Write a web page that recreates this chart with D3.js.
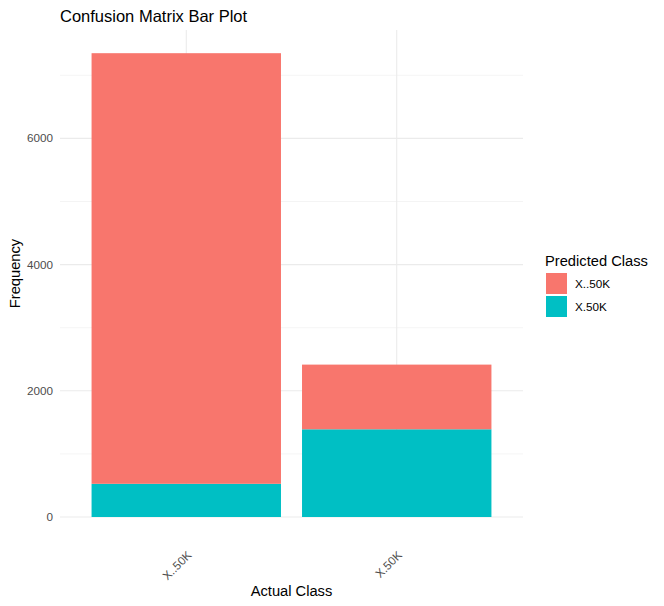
<!DOCTYPE html>
<html>
<head>
<meta charset="utf-8">
<script src="https://cdn.jsdelivr.net/npm/d3@7"></script>
<style>
  body { margin: 0; background: #fff; }
  text { font-family: "Liberation Sans", Arial, sans-serif; }
</style>
</head>
<body>
<svg width="664" height="606"></svg>
<script>
// categories and counts
const actualClasses = ["X..50K", "X.50K"];
const predictedClasses = ["X..50K", "X.50K"];
const predLow = [6824, 1025];   // predicted X..50K
const predHigh = [526, 1390];   // predicted X.50K
const yTicks = [0, 2000, 4000, 6000];
const yMinor = [1000, 3000, 5000, 7000];
const fillColors = ["#F8766D", "#00BFC4"];

const svg = d3.select("svg"),
  margin = {top: 30, right: 141, bottom: 89, left: 60},
  width = +svg.attr("width") - margin.left - margin.right,
  height = +svg.attr("height") - margin.top - margin.bottom;

const rows = actualClasses.map((c, i) => ({actual: c, "X..50K": predLow[i], "X.50K": predHigh[i]}));
// ggplot puts the first level on top, so stack the second one first
const stacked = d3.stack().keys(predictedClasses.slice().reverse())(rows);

const maxTotal = d3.max(rows, d => d["X..50K"] + d["X.50K"]);

// 0.6 of a step between panel edge and band centre, bars 0.9 of a step
const x = d3.scaleBand()
  .domain(actualClasses)
  .range([0, width])
  .paddingInner(0.1)
  .paddingOuter(0.15);

const y = d3.scaleLinear()
  .domain([0, maxTotal * 1.05])
  .range([height, 0]);

const color = d3.scaleOrdinal().domain(predictedClasses).range(fillColors);

const g = svg.append("g").attr("transform", `translate(${margin.left},${margin.top})`);

// grid
g.selectAll(".minor").data(yMinor).enter().append("line")
  .attr("x1", 0).attr("x2", width)
  .attr("y1", d => y(d)).attr("y2", d => y(d))
  .attr("stroke", "#EBEBEB").attr("stroke-width", 0.55);
g.selectAll(".major").data(yTicks).enter().append("line")
  .attr("x1", 0).attr("x2", width)
  .attr("y1", d => y(d)).attr("y2", d => y(d))
  .attr("stroke", "#EBEBEB").attr("stroke-width", 1.1);
g.selectAll(".vgrid").data(actualClasses).enter().append("line")
  .attr("x1", d => x(d) + x.bandwidth() / 2).attr("x2", d => x(d) + x.bandwidth() / 2)
  .attr("y1", 0).attr("y2", height)
  .attr("stroke", "#EBEBEB").attr("stroke-width", 1.1);

// bars
g.selectAll(".layer").data(stacked).enter().append("g")
  .attr("fill", d => color(d.key))
  .selectAll("rect").data(d => d).enter().append("rect")
  .attr("x", d => x(d.data.actual))
  .attr("width", x.bandwidth())
  .attr("y", d => y(d[1]))
  .attr("height", d => y(d[0]) - y(d[1]));

// y axis labels
g.selectAll(".ylab").data(yTicks).enter().append("text")
  .attr("x", -7).attr("y", d => y(d)).attr("dy", "0.35em")
  .attr("text-anchor", "end")
  .attr("font-size", "11.7px").attr("fill", "#4D4D4D")
  .text(d => d);

// x axis labels, rotated
g.selectAll(".xlab").data(actualClasses).enter().append("text")
  .attr("transform", d => `translate(${x(d) + x.bandwidth() / 2 + 6},${height + 39}) rotate(-45)`)
  .attr("text-anchor", "end")
  .attr("font-size", "11.7px").attr("fill", "#4D4D4D")
  .text(d => d);

// titles
svg.append("text")
  .attr("x", margin.left).attr("y", 22)
  .attr("font-size", "16.5px").attr("fill", "#000")
  .text("Confusion Matrix Bar Plot");

svg.append("text")
  .attr("x", margin.left + width / 2).attr("y", 596)
  .attr("text-anchor", "middle")
  .attr("font-size", "14.7px").attr("fill", "#000")
  .text("Actual Class");

svg.append("text")
  .attr("transform", `translate(20,${margin.top + height / 2}) rotate(-90)`)
  .attr("text-anchor", "middle")
  .attr("font-size", "14.7px").attr("fill", "#000")
  .text("Frequency");

// legend
const legend = svg.append("g").attr("transform", "translate(546,0)");
legend.append("text")
  .attr("x", -1).attr("y", 266)
  .attr("font-size", "14.7px").attr("fill", "#000")
  .text("Predicted Class");
const item = legend.selectAll(".item").data(predictedClasses).enter().append("g")
  .attr("transform", (d, i) => `translate(0,${273 + i * 23})`);
item.append("rect")
  .attr("width", 21).attr("height", 21)
  .attr("fill", d => color(d));
item.append("text")
  .attr("x", 29).attr("y", 10.5).attr("dy", "0.35em")
  .attr("font-size", "11.7px").attr("fill", "#000")
  .text(d => d);
</script>
</body>
</html>
